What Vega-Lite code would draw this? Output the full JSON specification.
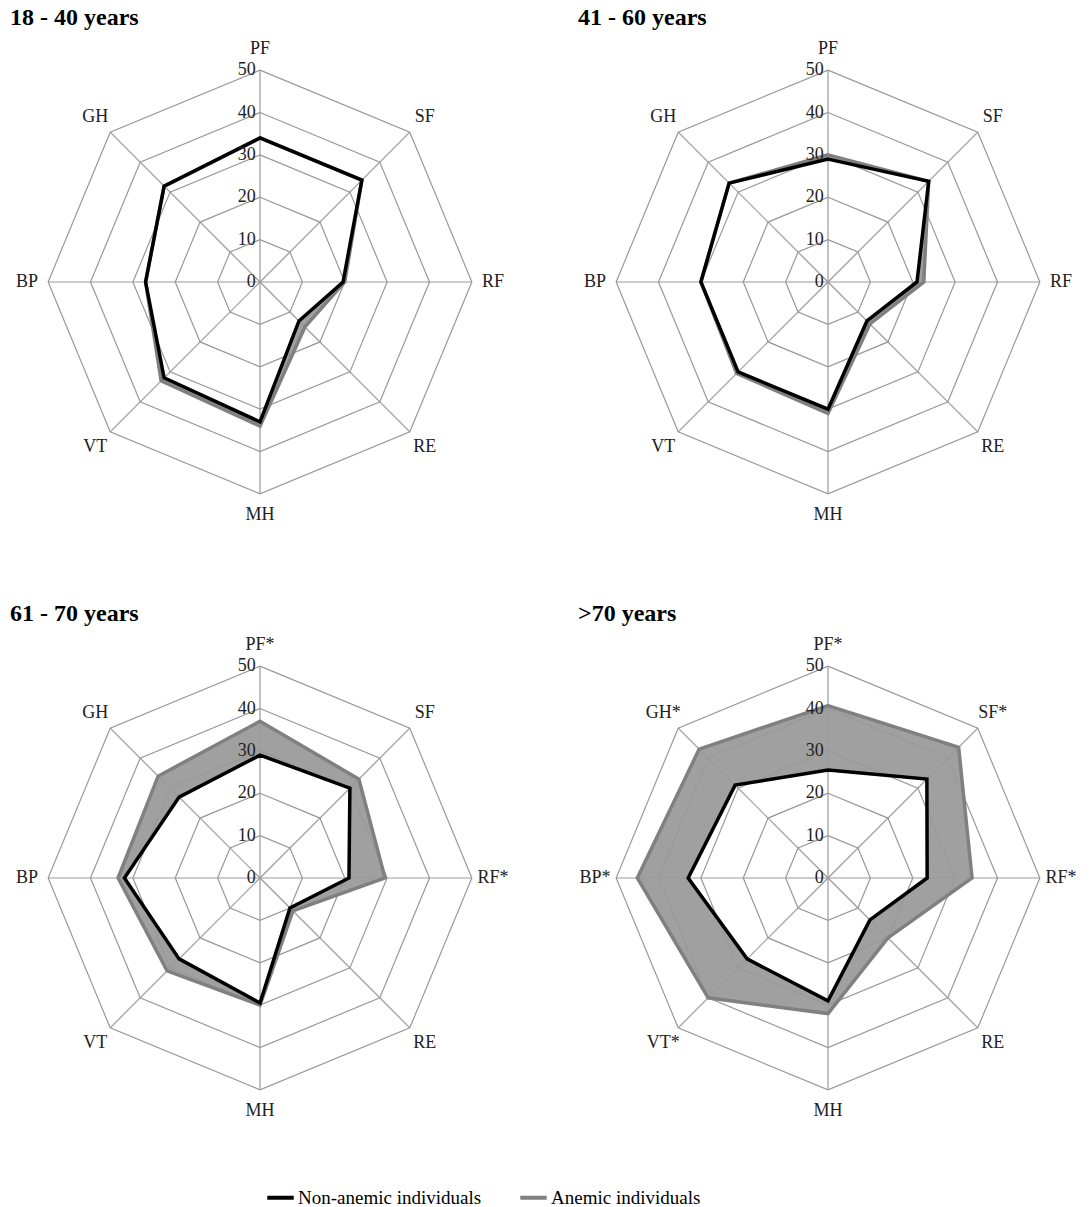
{
"$schema":"https://vega.github.io/schema/vega-lite/v6.json",
"padding":{"left":10,"top":6,"right":5,"bottom":5},
"background":"white",
"config":{"view":{"stroke":null},"font":"Liberation Serif",
 "title":{"font":"Liberation Serif","fontSize":24,"fontWeight":"bold","anchor":"start","color":"#000","offset":2},
 "legend":{"orient":"none","legendX":255,"legendY":1150,"direction":"horizontal","title":null,"symbolType":"stroke","symbolStrokeWidth":4,"symbolSize":700,"labelFont":"Liberation Serif","labelFontSize":19,"labelColor":"#000","labelLimit":0,"columnPadding":30,"labelOffset":2}},
"datasets":{
 "vals":[
 {"p":1,"s":"Non-anemic individuals","i":0,"v":34},{"p":1,"s":"Non-anemic individuals","i":1,"v":34},{"p":1,"s":"Non-anemic individuals","i":2,"v":19.6},{"p":1,"s":"Non-anemic individuals","i":3,"v":13},{"p":1,"s":"Non-anemic individuals","i":4,"v":33},{"p":1,"s":"Non-anemic individuals","i":5,"v":32},{"p":1,"s":"Non-anemic individuals","i":6,"v":27},{"p":1,"s":"Non-anemic individuals","i":7,"v":32},
 {"p":1,"s":"Anemic individuals","i":0,"v":34},{"p":1,"s":"Anemic individuals","i":1,"v":34},{"p":1,"s":"Anemic individuals","i":2,"v":20},{"p":1,"s":"Anemic individuals","i":3,"v":15},{"p":1,"s":"Anemic individuals","i":4,"v":34},{"p":1,"s":"Anemic individuals","i":5,"v":33},{"p":1,"s":"Anemic individuals","i":6,"v":27},{"p":1,"s":"Anemic individuals","i":7,"v":32},
 {"p":2,"s":"Non-anemic individuals","i":0,"v":29},{"p":2,"s":"Non-anemic individuals","i":1,"v":33.6},{"p":2,"s":"Non-anemic individuals","i":2,"v":21},{"p":2,"s":"Non-anemic individuals","i":3,"v":13},{"p":2,"s":"Non-anemic individuals","i":4,"v":30},{"p":2,"s":"Non-anemic individuals","i":5,"v":30},{"p":2,"s":"Non-anemic individuals","i":6,"v":30},{"p":2,"s":"Non-anemic individuals","i":7,"v":33},
 {"p":2,"s":"Anemic individuals","i":0,"v":30},{"p":2,"s":"Anemic individuals","i":1,"v":33.6},{"p":2,"s":"Anemic individuals","i":2,"v":22.6},{"p":2,"s":"Anemic individuals","i":3,"v":14},{"p":2,"s":"Anemic individuals","i":4,"v":31},{"p":2,"s":"Anemic individuals","i":5,"v":30.5},{"p":2,"s":"Anemic individuals","i":6,"v":30},{"p":2,"s":"Anemic individuals","i":7,"v":33},
 {"p":3,"s":"Non-anemic individuals","i":0,"v":29},{"p":3,"s":"Non-anemic individuals","i":1,"v":30},{"p":3,"s":"Non-anemic individuals","i":2,"v":21},{"p":3,"s":"Non-anemic individuals","i":3,"v":10},{"p":3,"s":"Non-anemic individuals","i":4,"v":29.5},{"p":3,"s":"Non-anemic individuals","i":5,"v":27},{"p":3,"s":"Non-anemic individuals","i":6,"v":32},{"p":3,"s":"Non-anemic individuals","i":7,"v":27},
 {"p":3,"s":"Anemic individuals","i":0,"v":37},{"p":3,"s":"Anemic individuals","i":1,"v":33},{"p":3,"s":"Anemic individuals","i":2,"v":29.5},{"p":3,"s":"Anemic individuals","i":3,"v":11},{"p":3,"s":"Anemic individuals","i":4,"v":30},{"p":3,"s":"Anemic individuals","i":5,"v":31},{"p":3,"s":"Anemic individuals","i":6,"v":33.5},{"p":3,"s":"Anemic individuals","i":7,"v":34},
 {"p":4,"s":"Non-anemic individuals","i":0,"v":25.5},{"p":4,"s":"Non-anemic individuals","i":1,"v":33},{"p":4,"s":"Non-anemic individuals","i":2,"v":23.4},{"p":4,"s":"Non-anemic individuals","i":3,"v":14},{"p":4,"s":"Non-anemic individuals","i":4,"v":29},{"p":4,"s":"Non-anemic individuals","i":5,"v":27},{"p":4,"s":"Non-anemic individuals","i":6,"v":33},{"p":4,"s":"Non-anemic individuals","i":7,"v":31},
 {"p":4,"s":"Anemic individuals","i":0,"v":40.7},{"p":4,"s":"Anemic individuals","i":1,"v":43.6},{"p":4,"s":"Anemic individuals","i":2,"v":34},{"p":4,"s":"Anemic individuals","i":3,"v":20},{"p":4,"s":"Anemic individuals","i":4,"v":32},{"p":4,"s":"Anemic individuals","i":5,"v":40},{"p":4,"s":"Anemic individuals","i":6,"v":45},{"p":4,"s":"Anemic individuals","i":7,"v":43}
 ],
 "rings":[{"i":0,"r":[10,20,30,40,50]},{"i":1,"r":[10,20,30,40,50]},{"i":2,"r":[10,20,30,40,50]},{"i":3,"r":[10,20,30,40,50]},{"i":4,"r":[10,20,30,40,50]},{"i":5,"r":[10,20,30,40,50]},{"i":6,"r":[10,20,30,40,50]},{"i":7,"r":[10,20,30,40,50]}],
 "axes":[{"i":0},{"i":1},{"i":2},{"i":3},{"i":4},{"i":5},{"i":6},{"i":7}],
 "ticks":[{"t":0},{"t":10},{"t":20},{"t":30},{"t":40},{"t":50}],
 "labels":[
 {"p":1,"i":0,"l":"PF"},{"p":1,"i":1,"l":"SF"},{"p":1,"i":2,"l":"RF"},{"p":1,"i":3,"l":"RE"},{"p":1,"i":4,"l":"MH"},{"p":1,"i":5,"l":"VT"},{"p":1,"i":6,"l":"BP"},{"p":1,"i":7,"l":"GH"},
 {"p":2,"i":0,"l":"PF"},{"p":2,"i":1,"l":"SF"},{"p":2,"i":2,"l":"RF"},{"p":2,"i":3,"l":"RE"},{"p":2,"i":4,"l":"MH"},{"p":2,"i":5,"l":"VT"},{"p":2,"i":6,"l":"BP"},{"p":2,"i":7,"l":"GH"},
 {"p":3,"i":0,"l":"PF*"},{"p":3,"i":1,"l":"SF"},{"p":3,"i":2,"l":"RF*"},{"p":3,"i":3,"l":"RE"},{"p":3,"i":4,"l":"MH"},{"p":3,"i":5,"l":"VT"},{"p":3,"i":6,"l":"BP"},{"p":3,"i":7,"l":"GH"},
 {"p":4,"i":0,"l":"PF*"},{"p":4,"i":1,"l":"SF*"},{"p":4,"i":2,"l":"RF*"},{"p":4,"i":3,"l":"RE"},{"p":4,"i":4,"l":"MH"},{"p":4,"i":5,"l":"VT*"},{"p":4,"i":6,"l":"BP*"},{"p":4,"i":7,"l":"GH*"}
 ]
},
"columns":2,
"spacing":{"row":70,"column":68},
"concat":[
{"title":"18 - 40 years","width":500,"height":500,
 "encoding":{"x":{"field":"x","type":"quantitative","scale":{"domain":[-59,59]},"axis":null},"y":{"field":"y","type":"quantitative","scale":{"domain":[-59,59]},"axis":null}},
 "layer":[
  {"data":{"name":"vals"},"transform":[{"filter":"datum.p==1 && datum.s=='Anemic individuals'"},{"calculate":"datum.v*cos(PI/2-datum.i*PI/4)","as":"x"},{"calculate":"datum.v*sin(PI/2-datum.i*PI/4)","as":"y"}],"mark":{"type":"line","interpolate":"linear-closed","fill":"#a0a0a0","strokeWidth":0},"encoding":{"order":{"field":"i"}}},
  {"data":{"name":"vals"},"transform":[{"filter":"datum.p==1 && datum.s=='Non-anemic individuals'"},{"calculate":"datum.v*cos(PI/2-datum.i*PI/4)","as":"x"},{"calculate":"datum.v*sin(PI/2-datum.i*PI/4)","as":"y"}],"mark":{"type":"line","interpolate":"linear-closed","fill":"white","strokeWidth":0},"encoding":{"order":{"field":"i"}}},
  {"data":{"name":"rings"},"transform":[{"flatten":["r"]},{"calculate":"datum.r*cos(PI/2-datum.i*PI/4)","as":"x"},{"calculate":"datum.r*sin(PI/2-datum.i*PI/4)","as":"y"}],"mark":{"type":"line","interpolate":"linear-closed","color":"#999","strokeWidth":1.2},"encoding":{"detail":{"field":"r"},"order":{"field":"i"}}},
  {"data":{"name":"axes"},"transform":[{"calculate":"50*cos(PI/2-datum.i*PI/4)","as":"x"},{"calculate":"50*sin(PI/2-datum.i*PI/4)","as":"y"}],"mark":{"type":"rule","color":"#999","strokeWidth":1.2},"encoding":{"x2":{"datum":0},"y2":{"datum":0}}},
  {"data":{"name":"vals"},"transform":[{"filter":"datum.p==1 && datum.s=='Anemic individuals'"},{"calculate":"datum.v*cos(PI/2-datum.i*PI/4)","as":"x"},{"calculate":"datum.v*sin(PI/2-datum.i*PI/4)","as":"y"}],"mark":{"type":"line","interpolate":"linear-closed","strokeWidth":3.5},"encoding":{"order":{"field":"i"},"color":{"field":"s","type":"nominal","scale":{"domain":["Non-anemic individuals","Anemic individuals"],"range":["#000000","#808080"]}}}},
  {"data":{"name":"vals"},"transform":[{"filter":"datum.p==1 && datum.s=='Non-anemic individuals'"},{"calculate":"datum.v*cos(PI/2-datum.i*PI/4)","as":"x"},{"calculate":"datum.v*sin(PI/2-datum.i*PI/4)","as":"y"}],"mark":{"type":"line","interpolate":"linear-closed","strokeWidth":3.5},"encoding":{"order":{"field":"i"},"color":{"field":"s","type":"nominal","scale":{"domain":["Non-anemic individuals","Anemic individuals"],"range":["#000000","#808080"]}}}},
  {"data":{"name":"ticks"},"transform":[{"calculate":"-1","as":"x"},{"calculate":"datum.t","as":"y"}],"mark":{"type":"text","align":"right","baseline":"middle","fontSize":18,"font":"Liberation Serif","color":"#222"},"encoding":{"text":{"field":"t"}}},
  {"data":{"name":"labels"},"transform":[{"filter":"datum.p==1"},{"calculate":"55*cos(PI/2-datum.i*PI/4)","as":"x"},{"calculate":"55*sin(PI/2-datum.i*PI/4)","as":"y"}],"mark":{"type":"text","align":"center","baseline":"middle","fontSize":18,"font":"Liberation Serif","color":"#222"},"encoding":{"text":{"field":"l"}}}
 ]},
{"title":"41 - 60 years","width":500,"height":500,
 "encoding":{"x":{"field":"x","type":"quantitative","scale":{"domain":[-59,59]},"axis":null},"y":{"field":"y","type":"quantitative","scale":{"domain":[-59,59]},"axis":null}},
 "layer":[
  {"data":{"name":"vals"},"transform":[{"filter":"datum.p==2 && datum.s=='Anemic individuals'"},{"calculate":"datum.v*cos(PI/2-datum.i*PI/4)","as":"x"},{"calculate":"datum.v*sin(PI/2-datum.i*PI/4)","as":"y"}],"mark":{"type":"line","interpolate":"linear-closed","fill":"#a0a0a0","strokeWidth":0},"encoding":{"order":{"field":"i"}}},
  {"data":{"name":"vals"},"transform":[{"filter":"datum.p==2 && datum.s=='Non-anemic individuals'"},{"calculate":"datum.v*cos(PI/2-datum.i*PI/4)","as":"x"},{"calculate":"datum.v*sin(PI/2-datum.i*PI/4)","as":"y"}],"mark":{"type":"line","interpolate":"linear-closed","fill":"white","strokeWidth":0},"encoding":{"order":{"field":"i"}}},
  {"data":{"name":"rings"},"transform":[{"flatten":["r"]},{"calculate":"datum.r*cos(PI/2-datum.i*PI/4)","as":"x"},{"calculate":"datum.r*sin(PI/2-datum.i*PI/4)","as":"y"}],"mark":{"type":"line","interpolate":"linear-closed","color":"#999","strokeWidth":1.2},"encoding":{"detail":{"field":"r"},"order":{"field":"i"}}},
  {"data":{"name":"axes"},"transform":[{"calculate":"50*cos(PI/2-datum.i*PI/4)","as":"x"},{"calculate":"50*sin(PI/2-datum.i*PI/4)","as":"y"}],"mark":{"type":"rule","color":"#999","strokeWidth":1.2},"encoding":{"x2":{"datum":0},"y2":{"datum":0}}},
  {"data":{"name":"vals"},"transform":[{"filter":"datum.p==2 && datum.s=='Anemic individuals'"},{"calculate":"datum.v*cos(PI/2-datum.i*PI/4)","as":"x"},{"calculate":"datum.v*sin(PI/2-datum.i*PI/4)","as":"y"}],"mark":{"type":"line","interpolate":"linear-closed","strokeWidth":3.5},"encoding":{"order":{"field":"i"},"color":{"field":"s","type":"nominal","scale":{"domain":["Non-anemic individuals","Anemic individuals"],"range":["#000000","#808080"]}}}},
  {"data":{"name":"vals"},"transform":[{"filter":"datum.p==2 && datum.s=='Non-anemic individuals'"},{"calculate":"datum.v*cos(PI/2-datum.i*PI/4)","as":"x"},{"calculate":"datum.v*sin(PI/2-datum.i*PI/4)","as":"y"}],"mark":{"type":"line","interpolate":"linear-closed","strokeWidth":3.5},"encoding":{"order":{"field":"i"},"color":{"field":"s","type":"nominal","scale":{"domain":["Non-anemic individuals","Anemic individuals"],"range":["#000000","#808080"]}}}},
  {"data":{"name":"ticks"},"transform":[{"calculate":"-1","as":"x"},{"calculate":"datum.t","as":"y"}],"mark":{"type":"text","align":"right","baseline":"middle","fontSize":18,"font":"Liberation Serif","color":"#222"},"encoding":{"text":{"field":"t"}}},
  {"data":{"name":"labels"},"transform":[{"filter":"datum.p==2"},{"calculate":"55*cos(PI/2-datum.i*PI/4)","as":"x"},{"calculate":"55*sin(PI/2-datum.i*PI/4)","as":"y"}],"mark":{"type":"text","align":"center","baseline":"middle","fontSize":18,"font":"Liberation Serif","color":"#222"},"encoding":{"text":{"field":"l"}}}
 ]},
{"title":"61 - 70 years","width":500,"height":500,
 "encoding":{"x":{"field":"x","type":"quantitative","scale":{"domain":[-59,59]},"axis":null},"y":{"field":"y","type":"quantitative","scale":{"domain":[-59,59]},"axis":null}},
 "layer":[
  {"data":{"name":"vals"},"transform":[{"filter":"datum.p==3 && datum.s=='Anemic individuals'"},{"calculate":"datum.v*cos(PI/2-datum.i*PI/4)","as":"x"},{"calculate":"datum.v*sin(PI/2-datum.i*PI/4)","as":"y"}],"mark":{"type":"line","interpolate":"linear-closed","fill":"#a0a0a0","strokeWidth":0},"encoding":{"order":{"field":"i"}}},
  {"data":{"name":"vals"},"transform":[{"filter":"datum.p==3 && datum.s=='Non-anemic individuals'"},{"calculate":"datum.v*cos(PI/2-datum.i*PI/4)","as":"x"},{"calculate":"datum.v*sin(PI/2-datum.i*PI/4)","as":"y"}],"mark":{"type":"line","interpolate":"linear-closed","fill":"white","strokeWidth":0},"encoding":{"order":{"field":"i"}}},
  {"data":{"name":"rings"},"transform":[{"flatten":["r"]},{"calculate":"datum.r*cos(PI/2-datum.i*PI/4)","as":"x"},{"calculate":"datum.r*sin(PI/2-datum.i*PI/4)","as":"y"}],"mark":{"type":"line","interpolate":"linear-closed","color":"#999","strokeWidth":1.2},"encoding":{"detail":{"field":"r"},"order":{"field":"i"}}},
  {"data":{"name":"axes"},"transform":[{"calculate":"50*cos(PI/2-datum.i*PI/4)","as":"x"},{"calculate":"50*sin(PI/2-datum.i*PI/4)","as":"y"}],"mark":{"type":"rule","color":"#999","strokeWidth":1.2},"encoding":{"x2":{"datum":0},"y2":{"datum":0}}},
  {"data":{"name":"vals"},"transform":[{"filter":"datum.p==3 && datum.s=='Anemic individuals'"},{"calculate":"datum.v*cos(PI/2-datum.i*PI/4)","as":"x"},{"calculate":"datum.v*sin(PI/2-datum.i*PI/4)","as":"y"}],"mark":{"type":"line","interpolate":"linear-closed","strokeWidth":3.5},"encoding":{"order":{"field":"i"},"color":{"field":"s","type":"nominal","scale":{"domain":["Non-anemic individuals","Anemic individuals"],"range":["#000000","#808080"]}}}},
  {"data":{"name":"vals"},"transform":[{"filter":"datum.p==3 && datum.s=='Non-anemic individuals'"},{"calculate":"datum.v*cos(PI/2-datum.i*PI/4)","as":"x"},{"calculate":"datum.v*sin(PI/2-datum.i*PI/4)","as":"y"}],"mark":{"type":"line","interpolate":"linear-closed","strokeWidth":3.5},"encoding":{"order":{"field":"i"},"color":{"field":"s","type":"nominal","scale":{"domain":["Non-anemic individuals","Anemic individuals"],"range":["#000000","#808080"]}}}},
  {"data":{"name":"ticks"},"transform":[{"calculate":"-1","as":"x"},{"calculate":"datum.t","as":"y"}],"mark":{"type":"text","align":"right","baseline":"middle","fontSize":18,"font":"Liberation Serif","color":"#222"},"encoding":{"text":{"field":"t"}}},
  {"data":{"name":"labels"},"transform":[{"filter":"datum.p==3"},{"calculate":"55*cos(PI/2-datum.i*PI/4)","as":"x"},{"calculate":"55*sin(PI/2-datum.i*PI/4)","as":"y"}],"mark":{"type":"text","align":"center","baseline":"middle","fontSize":18,"font":"Liberation Serif","color":"#222"},"encoding":{"text":{"field":"l"}}}
 ]},
{"title":">70 years","width":500,"height":500,
 "encoding":{"x":{"field":"x","type":"quantitative","scale":{"domain":[-59,59]},"axis":null},"y":{"field":"y","type":"quantitative","scale":{"domain":[-59,59]},"axis":null}},
 "layer":[
  {"data":{"name":"vals"},"transform":[{"filter":"datum.p==4 && datum.s=='Anemic individuals'"},{"calculate":"datum.v*cos(PI/2-datum.i*PI/4)","as":"x"},{"calculate":"datum.v*sin(PI/2-datum.i*PI/4)","as":"y"}],"mark":{"type":"line","interpolate":"linear-closed","fill":"#a0a0a0","strokeWidth":0},"encoding":{"order":{"field":"i"}}},
  {"data":{"name":"vals"},"transform":[{"filter":"datum.p==4 && datum.s=='Non-anemic individuals'"},{"calculate":"datum.v*cos(PI/2-datum.i*PI/4)","as":"x"},{"calculate":"datum.v*sin(PI/2-datum.i*PI/4)","as":"y"}],"mark":{"type":"line","interpolate":"linear-closed","fill":"white","strokeWidth":0},"encoding":{"order":{"field":"i"}}},
  {"data":{"name":"rings"},"transform":[{"flatten":["r"]},{"calculate":"datum.r*cos(PI/2-datum.i*PI/4)","as":"x"},{"calculate":"datum.r*sin(PI/2-datum.i*PI/4)","as":"y"}],"mark":{"type":"line","interpolate":"linear-closed","color":"#999","strokeWidth":1.2},"encoding":{"detail":{"field":"r"},"order":{"field":"i"}}},
  {"data":{"name":"axes"},"transform":[{"calculate":"50*cos(PI/2-datum.i*PI/4)","as":"x"},{"calculate":"50*sin(PI/2-datum.i*PI/4)","as":"y"}],"mark":{"type":"rule","color":"#999","strokeWidth":1.2},"encoding":{"x2":{"datum":0},"y2":{"datum":0}}},
  {"data":{"name":"vals"},"transform":[{"filter":"datum.p==4 && datum.s=='Anemic individuals'"},{"calculate":"datum.v*cos(PI/2-datum.i*PI/4)","as":"x"},{"calculate":"datum.v*sin(PI/2-datum.i*PI/4)","as":"y"}],"mark":{"type":"line","interpolate":"linear-closed","strokeWidth":3.5},"encoding":{"order":{"field":"i"},"color":{"field":"s","type":"nominal","scale":{"domain":["Non-anemic individuals","Anemic individuals"],"range":["#000000","#808080"]}}}},
  {"data":{"name":"vals"},"transform":[{"filter":"datum.p==4 && datum.s=='Non-anemic individuals'"},{"calculate":"datum.v*cos(PI/2-datum.i*PI/4)","as":"x"},{"calculate":"datum.v*sin(PI/2-datum.i*PI/4)","as":"y"}],"mark":{"type":"line","interpolate":"linear-closed","strokeWidth":3.5},"encoding":{"order":{"field":"i"},"color":{"field":"s","type":"nominal","scale":{"domain":["Non-anemic individuals","Anemic individuals"],"range":["#000000","#808080"]}}}},
  {"data":{"name":"ticks"},"transform":[{"calculate":"-1","as":"x"},{"calculate":"datum.t","as":"y"}],"mark":{"type":"text","align":"right","baseline":"middle","fontSize":18,"font":"Liberation Serif","color":"#222"},"encoding":{"text":{"field":"t"}}},
  {"data":{"name":"labels"},"transform":[{"filter":"datum.p==4"},{"calculate":"55*cos(PI/2-datum.i*PI/4)","as":"x"},{"calculate":"55*sin(PI/2-datum.i*PI/4)","as":"y"}],"mark":{"type":"text","align":"center","baseline":"middle","fontSize":18,"font":"Liberation Serif","color":"#222"},"encoding":{"text":{"field":"l"}}}
 ]}
]
}
